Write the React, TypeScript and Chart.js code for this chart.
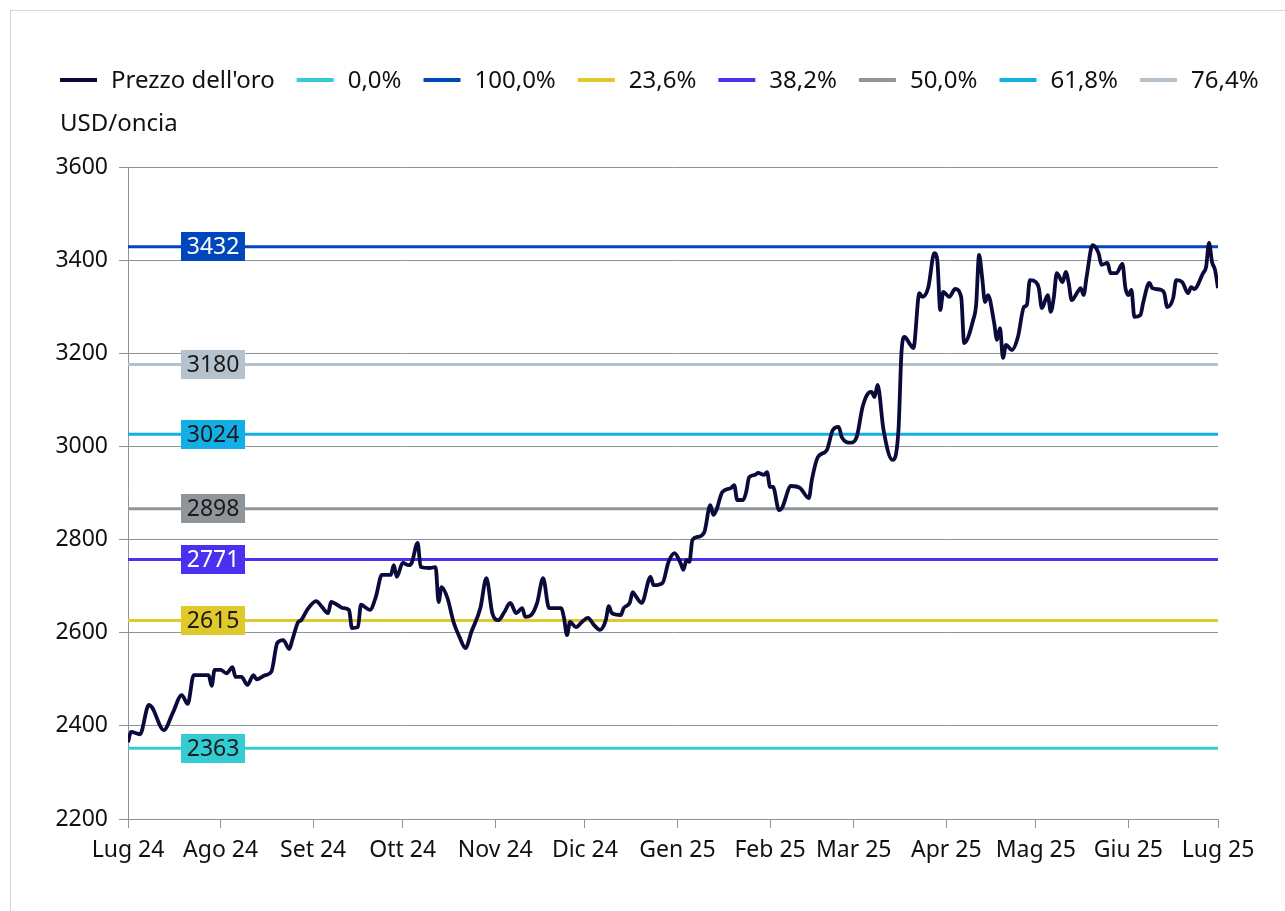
import React, { useEffect, useRef } from 'react';
import { Chart, registerables } from 'chart.js';

Chart.register(...registerables);

// Days counted from 1 Jul 2024
const priceDays = [
  0, 1, 4, 7, 8, 12, 15, 18, 20, 22, 24, 27, 28, 29, 31, 33, 35, 36, 38, 40,
  42, 43, 46, 48, 50, 52, 54, 55, 57, 58, 60, 63, 65, 67, 68, 70, 72, 74, 75, 77,
  78, 81, 83, 85, 88, 89, 90, 92, 94, 95, 97, 98, 101, 103, 104, 105, 107, 109, 111, 113,
  115, 118, 120, 122, 124, 126, 128, 130, 132, 133, 135, 137, 139, 141, 145, 146, 147, 148, 150, 152,
  154, 156, 158, 160, 161, 162, 165, 166, 168, 169, 170, 172, 175, 176, 179, 181, 183, 185, 186, 187,
  188, 189, 191, 193, 195, 196, 197, 199, 202, 203, 204, 206, 207, 208, 210, 211, 213, 214, 215, 216,
  218, 219, 222, 225, 228, 229, 231, 234, 236, 238, 239, 242, 244, 246, 248, 249, 250, 251, 253, 256,
  258, 259, 260, 262, 263, 265, 266, 268, 270, 271, 272, 273, 275, 277, 279, 280, 283, 284, 285, 286,
  287, 288, 290, 291, 292, 293, 294, 296, 298, 300, 301, 302, 304, 305, 306, 308, 309, 310, 311, 313,
  314, 315, 316, 318, 319, 320, 321, 323, 325, 326, 328, 329, 331, 333, 334, 335, 336, 337, 339, 340,
  342, 343, 346, 347, 348, 350, 351, 353, 355, 356, 357, 360, 361, 362, 363, 364, 365,
];
const priceValues = [
  2365, 2387, 2382, 2445, 2440, 2391, 2428, 2466, 2447, 2509, 2509, 2509, 2486, 2520, 2520, 2513, 2526, 2505, 2505, 2488,
  2509, 2500, 2509, 2516, 2578, 2584, 2565, 2584, 2623, 2627, 2649, 2668, 2655, 2642, 2666, 2660, 2653, 2649, 2610, 2612,
  2660, 2649, 2677, 2724, 2724, 2745, 2720, 2750, 2745, 2750, 2793, 2741, 2739, 2741, 2666, 2698, 2674, 2623, 2591, 2567,
  2602, 2653, 2717, 2642, 2627, 2644, 2664, 2642, 2653, 2634, 2638, 2664, 2717, 2653, 2653, 2632, 2595, 2623, 2612, 2623,
  2632, 2617, 2606, 2627, 2657, 2642, 2638, 2653, 2664, 2687, 2679, 2664, 2720, 2702, 2707, 2752, 2771, 2750, 2735, 2756,
  2752, 2799, 2806, 2816, 2874, 2853, 2863, 2902, 2911, 2917, 2885, 2885, 2902, 2934, 2939, 2943, 2939, 2945, 2913, 2913,
  2863, 2868, 2915, 2911, 2889, 2928, 2977, 2992, 3035, 3042, 3020, 3008, 3020, 3085, 3115, 3117, 3106, 3132, 3035, 2971,
  3035, 3201, 3235, 3218, 3211, 3329, 3321, 3342, 3415, 3400, 3293, 3332, 3321, 3338, 3321, 3222, 3271, 3304, 3411, 3364,
  3310, 3325, 3267, 3229, 3254, 3190, 3218, 3207, 3235, 3299, 3304, 3357, 3353, 3340, 3297, 3325, 3289, 3319, 3372, 3353,
  3375, 3351, 3314, 3332, 3340, 3325, 3364, 3432, 3415, 3390, 3394, 3372, 3372, 3392, 3340, 3325, 3336, 3278, 3282, 3310,
  3351, 3340, 3336, 3329, 3299, 3319, 3357, 3353, 3329, 3342, 3338, 3372, 3385, 3437, 3396, 3379, 3340,
];

const monthTickDays = [0, 31, 62, 92, 123, 153, 184, 215, 243, 274, 304, 335, 365];
const monthTickLabels = [
  'Lug 24', 'Ago 24', 'Set 24', 'Ott 24', 'Nov 24', 'Dic 24', 'Gen 25',
  'Feb 25', 'Mar 25', 'Apr 25', 'Mag 25', 'Giu 25', 'Lug 25',
];

const priceLabel = "Prezzo dell'oro";
const fibLabels = ['0,0%', '100,0%', '23,6%', '38,2%', '50,0%', '61,8%', '76,4%'];
const fibLineValues = [2352, 3429, 2626, 2757, 2866, 3026, 3176];
const fibTagTexts = ['2363', '3432', '2615', '2771', '2898', '3024', '3180'];
const fibColors = ['#33CCD3', '#0047BB', '#DFC92B', '#4B30F0', '#8E959B', '#14AEE6', '#B5C1CC'];
const fibTagTextColors = ['#1a1a1a', '#ffffff', '#1a1a1a', '#ffffff', '#1a1a1a', '#1a1a1a', '#1a1a1a'];
const fibTagDay = 28.5;

const xMin = 0;
const xMax = 365;
const yMin = 2200;
const yMax = 3600;
const yStep = 200;

const FONT = '"Noto Sans"';
const FSIZE = 23;
const LEGEND_FSIZE = 24;
const TEXT = '#111111';
const GRID = '#8E9398';

const legendAndTagsPlugin = {
  id: 'legendAndTags',
  afterDatasetsDraw(chart: any) {
    const { ctx, scales } = chart;
    const xs = scales.x;
    const ys = scales.y;
    ctx.save();
    ctx.font = `${FSIZE}px ${FONT}`;
    ctx.textAlign = 'center';
    ctx.textBaseline = 'middle';
    fibLineValues.forEach((v, i) => {
      const cy = ys.getPixelForValue(v);
      const cx = xs.getPixelForValue(fibTagDay);
      const w = 64;
      const h = 29;
      ctx.fillStyle = fibColors[i];
      ctx.fillRect(Math.round(cx - w / 2), Math.round(cy - h / 2), w, h);
      ctx.fillStyle = fibTagTextColors[i];
      ctx.fillText(fibTagTexts[i], cx, cy + 1);
    });
    ctx.restore();
  },
  afterDraw(chart: any) {
    const { ctx } = chart;
    ctx.save();
    ctx.font = `${LEGEND_FSIZE}px ${FONT}`;
    ctx.textAlign = 'left';
    ctx.textBaseline = 'middle';
    let x = 60;
    const y = 80;
    chart.data.datasets.forEach((ds: any) => {
      ctx.fillStyle = ds.borderColor;
      ctx.fillRect(x, y - 2, 37, 4);
      x += 37 + 14;
      ctx.fillStyle = TEXT;
      ctx.fillText(ds.label, x, y + 1);
      x += ctx.measureText(ds.label).width + 22;
    });
    ctx.fillText('USD/oncia', 60, 124);
    ctx.restore();
  },
};

export default function App() {
  const canvasRef = useRef<HTMLCanvasElement | null>(null);

  useEffect(() => {
    if (!canvasRef.current) return;
    const datasets: any[] = [
      {
        label: priceLabel,
        data: priceDays.map((d, i) => ({ x: d, y: priceValues[i] })),
        borderColor: '#0B0B3B',
        backgroundColor: '#0B0B3B',
        borderWidth: 3.8,
        pointRadius: 0,
        cubicInterpolationMode: 'monotone',
      },
      ...fibLabels.map((lab, i) => ({
        label: lab,
        data: [
          { x: xMin, y: fibLineValues[i] },
          { x: xMax, y: fibLineValues[i] },
        ],
        borderColor: fibColors[i],
        backgroundColor: fibColors[i],
        borderWidth: 3,
        pointRadius: 0,
      })),
    ];

    const chart = new Chart(canvasRef.current, {
      type: 'line',
      data: { datasets },
      options: {
        animation: false,
        responsive: true,
        maintainAspectRatio: false,
        layout: { padding: { left: 0, right: 67, top: 167, bottom: 0 } },
        plugins: {
          legend: { display: false },
          tooltip: { enabled: false },
        },
        scales: {
          x: {
            type: 'linear',
            min: xMin,
            max: xMax,
            afterBuildTicks: (scale: any) => {
              scale.ticks = monthTickDays.map((v) => ({ value: v }));
            },
            afterFit: (scale: any) => {
              scale.height = 92;
            },
            ticks: {
              autoSkip: false,
              maxRotation: 0,
              padding: 9,
              color: TEXT,
              font: { family: 'Noto Sans', size: FSIZE },
              callback: (_v: any, idx: number) => monthTickLabels[idx],
            },
            grid: {
              drawOnChartArea: false,
              drawTicks: true,
              tickLength: 9,
              color: GRID,
            },
            border: { color: GRID, width: 1 },
          },
          y: {
            type: 'linear',
            min: yMin,
            max: yMax,
            afterFit: (scale: any) => {
              scale.width = 128;
            },
            ticks: {
              stepSize: yStep,
              padding: 11,
              color: TEXT,
              font: { family: 'Noto Sans', size: FSIZE },
              callback: (v: any) => String(v),
            },
            grid: {
              color: GRID,
              lineWidth: 1,
              tickLength: 9,
            },
            border: { color: GRID, width: 1 },
          },
        },
      },
      plugins: [legendAndTagsPlugin],
    });
    return () => chart.destroy();
  }, []);

  return (
    <>
      <div
        style={{
          position: 'fixed',
          left: 10,
          top: 10,
          width: 1400,
          height: 1000,
          borderLeft: '1px solid #D6D6D6',
          borderTop: '1px solid #D6D6D6',
          boxSizing: 'border-box',
        }}
      />
      <div style={{ position: 'fixed', left: 0, top: 0, width: 1285, height: 911 }}>
        <canvas ref={canvasRef} />
      </div>
    </>
  );
}
